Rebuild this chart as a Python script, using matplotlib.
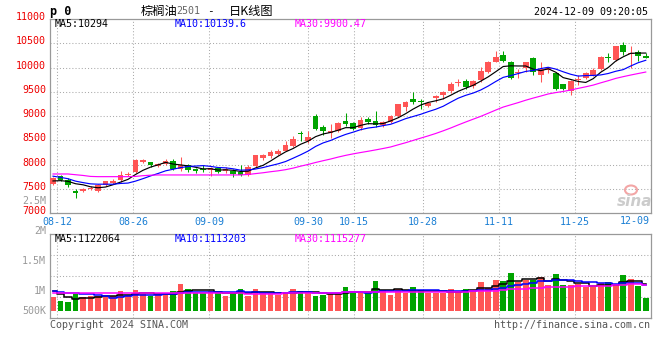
import matplotlib
matplotlib.use('Agg')
import matplotlib.pyplot as plt
from matplotlib.patches import Ellipse
import numpy as np

# Palm oil 2501 daily bars, 2024-08-09 .. 2024-12-09 (80 sessions)
opens = [7610, 7765, 7690, 7460, 7450, 7495, 7450, 7580, 7630, 7680,
         7790, 7840, 8050, 8060, 7980, 8015, 8085, 7910, 7985, 7910,
         7910, 7895, 7925, 7870, 7880, 7840, 7785, 7970, 8130, 8170,
         8225, 8290, 8380, 8660, 8480, 9010, 8785, 8655, 8700, 8900,
         8860, 8750, 8940, 8900, 8820, 8875, 9010, 9190, 9350, 9320,
         9215, 9375, 9430, 9510, 9680, 9715, 9615, 9735, 9905, 10120,
         10265, 10110, 9885, 9985, 10190, 9850, 9940, 9890, 9655, 9510,
         9740, 9785, 9840, 9975, 10210, 10165, 10460, 10280, 10315, 10245]
closes = [7730, 7690, 7580, 7425, 7510, 7525, 7590, 7655, 7660, 7780,
          7810, 8090, 8090, 7985, 8010, 8070, 7915, 8000, 7885, 7870,
          7900, 7935, 7855, 7920, 7815, 7785, 7960, 8190, 8190, 8260,
          8275, 8410, 8535, 8625, 8580, 8740, 8685, 8695, 8850, 8845,
          8740, 8920, 8875, 8820, 8885, 9010, 9245, 9295, 9295, 9295,
          9280, 9415, 9495, 9665, 9700, 9600, 9715, 9920, 10110, 10225,
          10140, 9785, 9905, 10110, 9905, 9975, 9985, 9550, 9550, 9715,
          9770, 9885, 9940, 10210, 10200, 10435, 10325, 10300, 10230, 10205]
highs = [7750, 7785, 7720, 7490, 7520, 7560, 7610, 7660, 7705, 7870,
         7860, 8110, 8120, 8065, 8030, 8110, 8120, 8150, 8005, 7940,
         8000, 7960, 7960, 7945, 7910, 7990, 7990, 8205, 8220, 8310,
         8330, 8490, 8600, 8685, 8685, 9050, 8820, 8830, 8885, 9065,
         8885, 8990, 8990, 9105, 8900, 9025, 9260, 9305, 9500, 9360,
         9295, 9440, 9525, 9700, 9770, 9770, 9735, 10005, 10140, 10345,
         10345, 10140, 9975, 10120, 10210, 10110, 10020, 9905, 9670, 9735,
         9840, 9905, 9985, 10230, 10300, 10450, 10530, 10450, 10355, 10310]
lows = [7590, 7660, 7540, 7320, 7435, 7470, 7430, 7565, 7610, 7645,
        7760, 7830, 8030, 7960, 7950, 7990, 7890, 7880, 7860, 7830,
        7850, 7760, 7820, 7830, 7740, 7760, 7760, 7950, 8105, 8140,
        8195, 8275, 8370, 8495, 8440, 8720, 8615, 8560, 8680, 8790,
        8710, 8725, 8830, 8785, 8780, 8860, 8990, 9105, 9260, 9145,
        9185, 9295, 9350, 9485, 9620, 9565, 9580, 9700, 9885, 10110,
        10110, 9770, 9780, 9905, 9850, 9700, 9890, 9530, 9530, 9430,
        9635, 9770, 9825, 9960, 10120, 10145, 10260, 9990, 10140, 10190]
# volume in millions of lots
volumes = [0.895, 0.828, 0.811, 0.939, 0.900, 0.917, 0.911, 0.895, 0.917, 0.995,
           0.928, 1.011, 0.939, 0.917, 0.928, 0.928, 0.995, 1.111, 1.028, 0.956,
           0.956, 0.995, 0.956, 0.917, 0.978, 1.028, 0.917, 1.028, 0.956, 0.956,
           0.928, 0.978, 1.028, 0.995, 0.956, 0.917, 0.928, 0.961, 0.961, 1.061,
           0.956, 0.956, 0.978, 1.161, 1.011, 0.928, 1.028, 0.956, 1.061, 1.011,
           0.956, 0.956, 0.956, 1.028, 0.995, 1.028, 1.011, 1.145, 1.045, 1.178,
           1.161, 1.295, 1.145, 1.178, 1.178, 1.228, 1.095, 1.278, 1.095, 1.095,
           1.111, 1.061, 1.061, 1.128, 1.145, 1.111, 1.262, 1.195, 1.078, 0.878]

# the 29 sessions before the window, only used to seed the moving averages
prior_closes = [7690, 7580, 7875, 7960, 8125, 7740, 7655, 7660, 7780, 7810,
                7940, 7640, 7685, 7860, 8070, 7915, 8000, 7885, 7870, 7900,
                7935, 7855, 7920, 7815, 7785, 7660, 7650, 7670, 7620]
prior_volumes = [0.85, 0.83, 0.93, 0.91, 0.92, 0.90, 0.90, 0.92, 0.98, 0.93,
                 1.00, 0.94, 0.92, 0.93, 0.92, 0.98, 1.08, 1.02, 0.95, 0.95,
                 1.00, 1.00, 1.00, 1.00, 1.00, 1.078, 1.061, 1.139, 0.827]

date_labels = ['08-12', '08-26', '09-09', '09-30', '10-15', '10-28', '11-11', '11-25', '12-09']
date_idx = [1, 11, 21, 34, 40, 49, 59, 69, 79]

price_ticks = [11000, 10500, 10000, 9500, 9000, 8500, 8000, 7500, 7000]
vol_ticks = [2.5, 2.0, 1.5, 1.0, 0.5]
vol_tick_labels = ['2.5M', '2M', '1.5M', '1M', '500K']

ma_price_text = ['MA5:10294', 'MA10:10139.6', 'MA30:9900.47']
ma_vol_text = ['MA5:1122064', 'MA10:1113203', 'MA30:1115277']

RED = '#ff5555'
GREEN = '#00a400'
MA_COLORS = ['black', '#0000ff', '#ff00ff']
GRID = '#aaaaaa'
MONO = 'DejaVu Sans Mono'


def moving_avg(prior, values, n):
    full = np.r_[prior, values]
    return np.convolve(full, np.ones(n) / n, 'valid')[-len(values):]


def px(x, y):
    # pixel position (from top-left) -> figure fraction
    return x / 660, 1 - y / 360


o = np.array(opens)
c = np.array(closes)
h = np.array(highs)
l = np.array(lows)
v = np.array(volumes)
idx = np.arange(len(c))
up = c >= o
cols = np.where(up, RED, GREEN)

fig = plt.figure(figsize=(6.6, 3.6), dpi=100)
fig.patch.set_facecolor('white')

ax = fig.add_axes([50 / 660, 1 - 213.3 / 360, 600.7 / 660, 194.3 / 360])
axv = fig.add_axes([50 / 660, 1 - 318.3 / 360, 600.7 / 660, 84 / 360])

xlim = (-0.4, 79.66)
# sina spaces its date grid a little wider than the bars
grid_x = [i * 1.014 - 0.44 for i in date_idx]

for a in (ax, axv):
    a.set_xlim(*xlim)
    a.set_xticks([])
    a.set_yticks([])
    for s in a.spines.values():
        s.set_color('#999999')
        s.set_linewidth(0.9)
    for gx in grid_x[:-1]:
        a.axvline(gx, color=GRID, lw=0.75, ls=(0, (1, 2)), zorder=0)

# ---- price panel ----
ax.set_ylim(7000, 11000)
for p in price_ticks[1:-1]:
    ax.axhline(p, color=GRID, lw=0.75, ls=(0, (1, 2)), zorder=0)

ax.vlines(idx, l, h, colors=cols, lw=0.75, zorder=2)
body_lo = np.minimum(o, c)
body_h = np.maximum(np.abs(c - o), 20)
ax.bar(idx, body_h, bottom=body_lo, width=0.76, color=cols, lw=0, zorder=3)

for n, col in zip([5, 10, 30], MA_COLORS):
    ax.plot(idx, moving_avg(prior_closes, c, n), color=col, lw=0.85, zorder=4)

for p in price_ticks:
    ax.annotate(str(p), xy=(0, p), xycoords=('axes fraction', 'data'),
                xytext=(-4, 2), textcoords='offset pixels', ha='right', va='center',
                color='#ee0000', fontsize=7.2, family=MONO, annotation_clip=False)

for gx, lab in zip(grid_x, date_labels):
    if lab == date_labels[-1]:
        fig.text(*px(650, 221.5), lab, ha='right', va='center', color='#1a7fd4',
                 fontsize=7.2, family=MONO)
    else:
        ax.annotate(lab, xy=(gx, 0), xycoords=('data', 'axes fraction'),
                    xytext=(0, -8.5), textcoords='offset pixels', ha='center', va='center',
                    color='#1a7fd4', fontsize=7.2, family=MONO, annotation_clip=False)

for txt, col, x0 in zip(ma_price_text, MA_COLORS, [55, 175, 295]):
    fig.text(*px(x0, 24), txt, ha='left', va='center', color=col, fontsize=7.2, family=MONO)

# ---- volume panel ----
vol_base = 0.667
axv.set_ylim(0.54, 1.94)
for k in (1, 2, 3):
    axv.axhline(0.54 + k * 0.35, color=GRID, lw=0.75, ls=(0, (1, 2)), zorder=0)
axv.bar(idx, v - vol_base, bottom=vol_base, width=0.76, color=cols, lw=0, zorder=2)
for n, col in zip([5, 10, 30], MA_COLORS):
    axv.plot(idx, moving_avg(prior_volumes, v, n), color=col, lw=1.1,
             drawstyle='steps-mid', zorder=3)

for val, lab in zip(vol_ticks, vol_tick_labels):
    axv.annotate(lab, xy=(0, max(val, 0.662)), xycoords=('axes fraction', 'data'),
                 xytext=(-4, 0), textcoords='offset pixels', ha='right', va='center',
                 color='#999999', fontsize=7.2, family=MONO, annotation_clip=False)

for txt, col, x0 in zip(ma_vol_text, MA_COLORS, [55, 175, 295]):
    fig.text(*px(x0, 238.7), txt, ha='left', va='center', color=col, fontsize=7.2, family=MONO)

# ---- header / footer ----
fig.text(*px(50, 11), 'p 0', ha='left', va='center', fontsize=8.5, family=MONO,
         fontweight='bold', color='black')
cjk = ['Noto Sans CJK SC', 'DejaVu Sans']
fig.text(*px(141, 11), '棕榈油', ha='left', va='center', fontsize=8.8, family=cjk, color='black')
fig.text(*px(176, 11.5), '2501', ha='left', va='center', fontsize=7.2, family=MONO, color='#666666')
fig.text(*px(207, 11.5), '-', ha='left', va='center', fontsize=8, family=MONO, color='black')
fig.text(*px(229, 11), '日K线图', ha='left', va='center', fontsize=8.8, family=cjk, color='black')
fig.text(*px(648, 12), '2024-12-09 09:20:05', ha='right', va='center', fontsize=7.2,
         family=MONO, color='black')

fig.text(*px(50, 324.5), 'Copyright 2024 SINA.COM', ha='left', va='center', fontsize=7.2,
         family=MONO, color='#555555')
fig.text(*px(650, 324.5), 'http://finance.sina.com.cn', ha='right', va='center', fontsize=7.2,
         family=MONO, color='#555555')

# faint sina watermark
fig.patches.append(Ellipse(px(631, 190), 12 / 660, 9 / 360, transform=fig.transFigure,
                           fill=False, ec='#f3a6a6', lw=1.5))
fig.text(*px(635, 201), 'sina', ha='center', va='center', fontsize=11, fontweight='bold',
         style='italic', color='#cccccc')

fig.savefig('out.png', dpi=100)
